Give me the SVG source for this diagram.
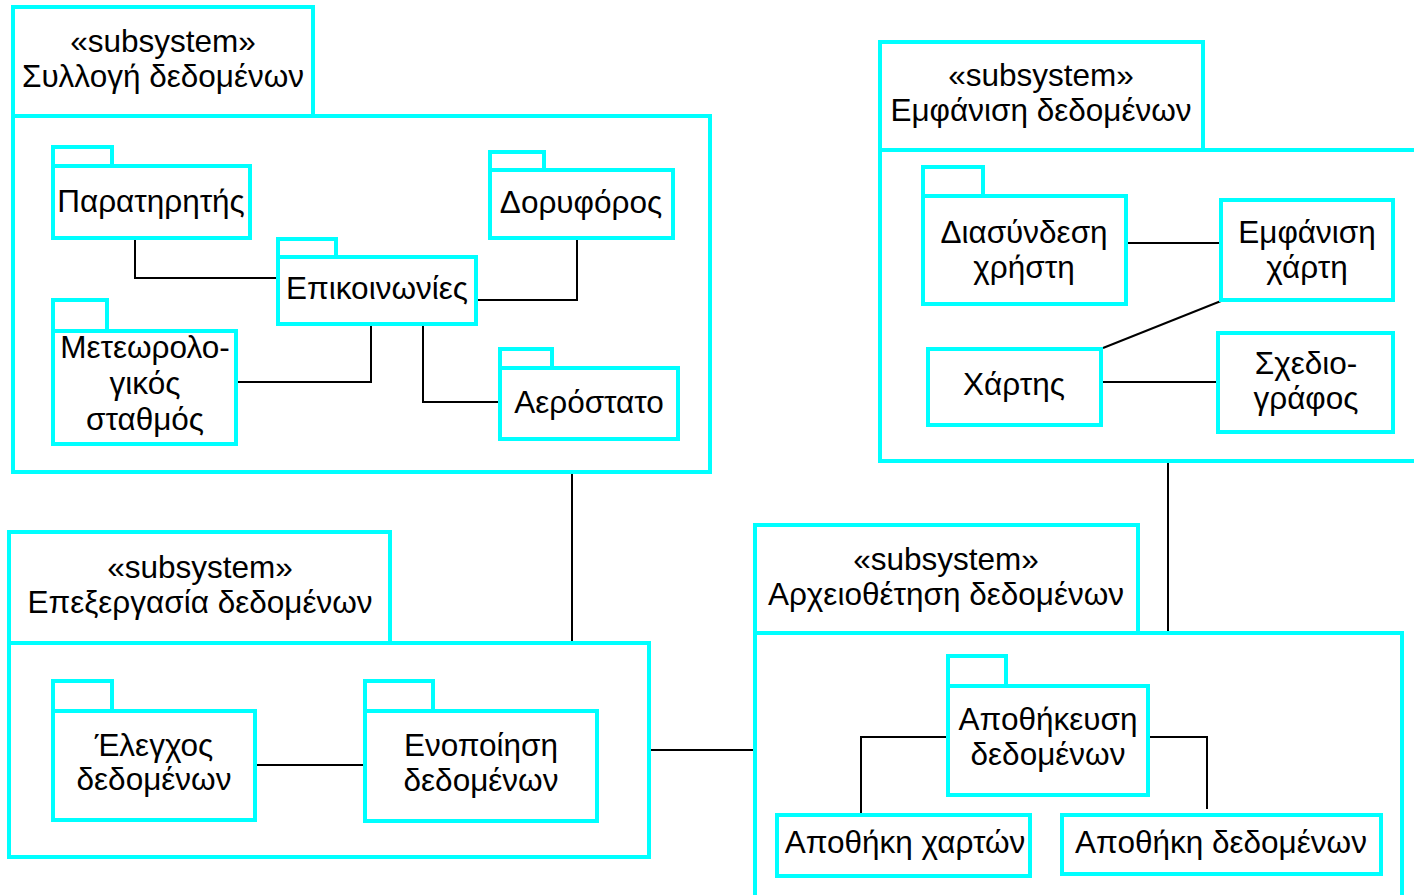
<svg xmlns="http://www.w3.org/2000/svg" width="1414" height="895" viewBox="0 0 1414 895">
<style>
.b{fill:#fff;stroke:#00ffff;stroke-width:4}
.t{font-family:"Liberation Sans",Arial,sans-serif;font-size:31.5px;fill:#000;text-anchor:middle}
.c{fill:none;stroke:#000;stroke-width:2}
</style>
<rect width="1414" height="895" fill="#fff"/>
<g id="sub-syllogi">
<rect class="b" x="13" y="7" width="300" height="109"/>
<rect class="b" x="13" y="116" width="697" height="356"/>
<text class="t" x="163" y="52">«subsystem»</text>
<text class="t" x="163" y="87">Συλλογή δεδομένων</text>
</g>
<g id="sub-emfanisi">
<rect class="b" x="880" y="42" width="323" height="108"/>
<rect class="b" x="880" y="150" width="560" height="311"/>
<text class="t" x="1041" y="86">«subsystem»</text>
<text class="t" x="1041" y="121">Εμφάνιση δεδομένων</text>
</g>
<g id="sub-epexergasia">
<rect class="b" x="9" y="532" width="381" height="111"/>
<rect class="b" x="9" y="643" width="640" height="214"/>
<text class="t" x="200" y="578">«subsystem»</text>
<text class="t" x="200" y="613">Επεξεργασία δεδομένων</text>
</g>
<g id="sub-archeio">
<rect class="b" x="755" y="525" width="383" height="108"/>
<rect class="b" x="755" y="633" width="647" height="300"/>
<text class="t" x="946" y="570">«subsystem»</text>
<text class="t" x="946" y="605">Αρχειοθέτηση δεδομένων</text>
</g>
<g id="connectors">
<path class="c" d="M135 238V278H278"/>
<path class="c" d="M577 238V300H476"/>
<path class="c" d="M236 382H371V324"/>
<path class="c" d="M423 324V402H500"/>
<path class="c" d="M1126 243H1221"/>
<path class="c" d="M1103 348L1221 301"/>
<path class="c" d="M1101 382H1218"/>
<path class="c" d="M255 765H365"/>
<path class="c" d="M946 737H861V813"/>
<path class="c" d="M1148 737H1207V809"/>
<path class="c" d="M572 474V641"/>
<path class="c" d="M651 750H753"/>
<path class="c" d="M1168 463V631"/>
</g>
<g id="p-paratiritis">
<rect class="b" x="53" y="147" width="59" height="19"/>
<rect class="b" x="53" y="166" width="197" height="72"/>
<text class="t" x="151" y="212">Παρατηρητής</text>
</g>
<g id="p-epikoinonies">
<rect class="b" x="278" y="239" width="58" height="18"/>
<rect class="b" x="278" y="257" width="198" height="67"/>
<text class="t" x="377" y="299">Επικοινωνίες</text>
</g>
<g id="p-doryforos">
<rect class="b" x="490" y="152" width="54" height="18"/>
<rect class="b" x="490" y="170" width="183" height="68"/>
<text class="t" x="581" y="213">Δορυφόρος</text>
</g>
<g id="p-meteo">
<rect class="b" x="53" y="300" width="54" height="31"/>
<rect class="b" x="53" y="331" width="183" height="113"/>
<text class="t" x="145" y="358">Μετεωρολο-</text>
<text class="t" x="145" y="394">γικός</text>
<text class="t" x="145" y="430">σταθμός</text>
</g>
<g id="p-aerostato">
<rect class="b" x="500" y="349" width="52" height="19"/>
<rect class="b" x="500" y="368" width="178" height="71"/>
<text class="t" x="589" y="413">Αερόστατο</text>
</g>
<g id="p-diasyndesi">
<rect class="b" x="923" y="167" width="60" height="29"/>
<rect class="b" x="923" y="196" width="203" height="108"/>
<text class="t" x="1024" y="243">Διασύνδεση</text>
<text class="t" x="1024" y="278">χρήστη</text>
</g>
<g id="p-emfanisi-charti">
<rect class="b" x="1221" y="200" width="172" height="100"/>
<text class="t" x="1307" y="243">Εμφάνιση</text>
<text class="t" x="1307" y="278">χάρτη</text>
</g>
<g id="p-chartis">
<rect class="b" x="928" y="349" width="173" height="76"/>
<text class="t" x="1014" y="395">Χάρτης</text>
</g>
<g id="p-schediografos">
<rect class="b" x="1218" y="333" width="175" height="99"/>
<text class="t" x="1306" y="374">Σχεδιο-</text>
<text class="t" x="1306" y="409">γράφος</text>
</g>
<g id="p-elegchos">
<rect class="b" x="53" y="681" width="59" height="30"/>
<rect class="b" x="53" y="711" width="202" height="109"/>
<text class="t" x="154" y="756">Έλεγχος</text>
<text class="t" x="154" y="790">δεδομένων</text>
</g>
<g id="p-enopoiisi">
<rect class="b" x="365" y="681" width="68" height="30"/>
<rect class="b" x="365" y="711" width="232" height="110"/>
<text class="t" x="481" y="756">Ενοποίηση</text>
<text class="t" x="481" y="791">δεδομένων</text>
</g>
<g id="p-apothikeusi">
<rect class="b" x="948" y="656" width="58" height="30"/>
<rect class="b" x="948" y="686" width="200" height="109"/>
<text class="t" x="1048" y="730">Αποθήκευση</text>
<text class="t" x="1048" y="765">δεδομένων</text>
</g>
<g id="p-apothiki-charton">
<rect class="b" x="777" y="815" width="253" height="61"/>
<text class="t" x="905" y="853">Αποθήκη χαρτών</text>
</g>
<g id="p-apothiki-dedomenon">
<rect class="b" x="1062" y="815" width="319" height="59"/>
<text class="t" x="1221" y="853">Αποθήκη δεδομένων</text>
</g>
</svg>
